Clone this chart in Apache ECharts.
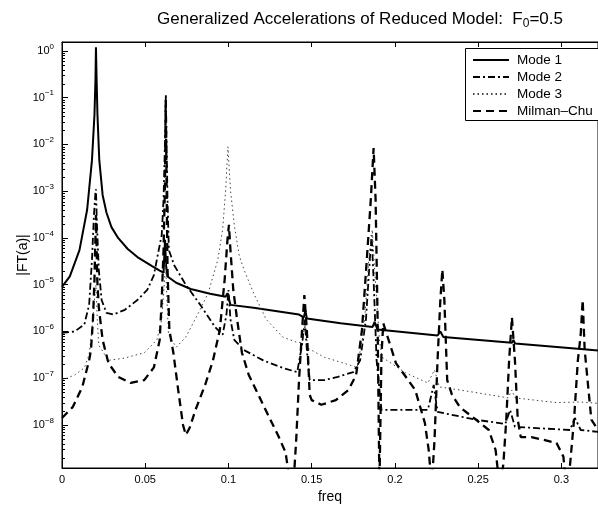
<!DOCTYPE html>
<html><head><meta charset="utf-8">
<script src="https://cdn.jsdelivr.net/npm/echarts@6/dist/echarts.min.js"></script>
<style>html,body{margin:0;padding:0;background:#fff}#c{width:598px;height:511px}</style>
</head><body><div id="c"></div>
<script>
// ---- data ----
const xTicks = [0, 0.05, 0.1, 0.15, 0.2, 0.25, 0.3];
const yTickExps = [0, -1, -2, -3, -4, -5, -6, -7, -8];
const seriesNames = ['Mode 1', 'Mode 2', 'Mode 3', 'Milman–Chu'];

const mode1Freq = [0, 0.0047, 0.0105, 0.0151, 0.0180, 0.0195, 0.0201, 0.0204, 0.0208, 0.0213, 0.0224, 0.0244, 0.0267, 0.0297, 0.0337, 0.0395, 0.0453, 0.0541, 0.0587, 0.0610, 0.0619, 0.0625, 0.0634, 0.0686, 0.0773, 0.0890, 0.0983, 0.0994, 0.1012, 0.1151, 0.1424, 0.1453, 0.1462, 0.1471, 0.1674, 0.1866, 0.1878, 0.1895, 0.2256, 0.2273, 0.2291, 0.2703, 0.2712, 0.2722, 0.3116, 0.322];
const mode1Amp = [9e-6, 1.5e-5, 5.5e-5, 4.0e-4, 4.6e-3, 0.043, 0.24, 1.2, 0.24, 0.043, 4.6e-3, 8.3e-4, 3.5e-4, 1.7e-4, 1.0e-4, 5.8e-5, 3.9e-5, 2.5e-5, 2.0e-5, 1.8e-5, 9.1e-5, 2.6e-5, 1.5e-5, 1.1e-5, 8.1e-6, 6.4e-6, 5.5e-6, 6.6e-6, 3.7e-6, 3.2e-6, 2.3e-6, 2.0e-6, 2.8e-6, 1.9e-6, 1.5e-6, 1.25e-6, 1.6e-6, 1.1e-6, 8.2e-7, 1.0e-6, 7.6e-7, 5.7e-7, 6.6e-7, 5.5e-7, 4.2e-7, 3.9e-7];

const mode2Freq = [0, 0.0076, 0.0134, 0.0163, 0.0180, 0.0192, 0.0201, 0.0204, 0.0209, 0.0221, 0.0238, 0.0267, 0.0308, 0.0378, 0.0453, 0.0512, 0.0552, 0.0581, 0.0599, 0.0610, 0.0619, 0.0624, 0.0628, 0.0634, 0.0642, 0.0674, 0.0744, 0.0831, 0.0919, 0.0965, 0.0988, 0.1000, 0.1012, 0.1035, 0.1093, 0.1209, 0.1326, 0.1413, 0.1442, 0.1459, 0.1471, 0.1488, 0.1576, 0.1657, 0.1750, 0.1791, 0.1826, 0.1849, 0.1860, 0.1872, 0.1890, 0.1919, 0.1965, 0.2198, 0.2233, 0.2256, 0.2488, 0.2663, 0.2692, 0.2721, 0.3052, 0.3081, 0.3116, 0.322];
const mode2Amp = [9.3e-7, 1.0e-6, 1.4e-6, 3.7e-6, 3.4e-5, 3.1e-4, 9.5e-4, 1.1e-3, 2.4e-4, 2.1e-5, 4.7e-6, 2.5e-6, 2.3e-6, 2.9e-6, 4.7e-6, 7.7e-6, 1.6e-5, 5.5e-5, 1.15e-4, 6.5e-4, 0.0126, 0.12, 0.0126, 6.5e-4, 5.5e-5, 2.6e-5, 9.9e-6, 3.7e-6, 1.25e-6, 8.5e-7, 2.3e-6, 7.7e-6, 1.8e-6, 6.6e-7, 4.0e-7, 2.4e-7, 1.66e-7, 1.35e-7, 5.1e-7, 1.8e-6, 4.0e-7, 9.1e-8, 9.1e-8, 1.07e-7, 1.35e-7, 2.4e-7, 1.8e-6, 3.4e-5, 1.15e-4, 1.27e-5, 2.4e-7, 2.1e-8, 2.1e-8, 2.1e-8, 7.2e-8, 1.9e-8, 1.29e-8, 1.05e-8, 2.1e-8, 9.1e-9, 7.8e-9, 1.41e-8, 7.8e-9, 7.1e-9];

const mode3Freq = [0, 0.0076, 0.0134, 0.0163, 0.0180, 0.0195, 0.0204, 0.0212, 0.0221, 0.0279, 0.0378, 0.0494, 0.0570, 0.0599, 0.0616, 0.0622, 0.0628, 0.0640, 0.0686, 0.0744, 0.0820, 0.0878, 0.0936, 0.0965, 0.0983, 0.0997, 0.1012, 0.1035, 0.1064, 0.1093, 0.1151, 0.1227, 0.1326, 0.1401, 0.1442, 0.1459, 0.1477, 0.1576, 0.1692, 0.1773, 0.1814, 0.1843, 0.1864, 0.1878, 0.1907, 0.1924, 0.2064, 0.2198, 0.2238, 0.2267, 0.2390, 0.2680, 0.2703, 0.2721, 0.2971, 0.3110, 0.322];
const mode3Amp = [9.1e-8, 1.17e-7, 1.66e-7, 3.2e-7, 1.07e-6, 4.7e-6, 9.9e-6, 1.8e-6, 5.1e-7, 2.4e-7, 2.7e-7, 3.5e-7, 6.6e-7, 1.8e-6, 1.27e-5, 3.1e-5, 7.7e-6, 8.5e-7, 4.6e-7, 7.6e-7, 2.5e-6, 6.6e-6, 3.4e-5, 1.5e-4, 1.06e-3, 8.9e-3, 1.06e-3, 1.9e-4, 4.3e-5, 2.1e-5, 6.6e-6, 1.8e-6, 7.6e-7, 6.0e-7, 5.7e-7, 1.38e-6, 4.4e-7, 2.8e-7, 2.1e-7, 1.7e-7, 1.07e-6, 3.4e-5, 1.5e-4, 2.1e-5, 6.6e-7, 2.8e-7, 1.3e-7, 7.9e-8, 1.5e-7, 6.5e-8, 5.6e-8, 3.8e-8, 5.6e-8, 3.8e-8, 3.0e-8, 3.1e-8, 2.9e-8];

const mcFreq = [0, 0.0064, 0.0122, 0.0163, 0.0174, 0.0186, 0.0195, 0.0204, 0.0212, 0.0221, 0.0244, 0.0279, 0.0337, 0.0413, 0.0494, 0.0552, 0.0587, 0.0599, 0.0610, 0.0619, 0.0623, 0.0628, 0.0634, 0.0645, 0.0669, 0.0698, 0.0727, 0.0744, 0.0767, 0.0802, 0.0860, 0.0907, 0.0948, 0.0977, 0.0994, 0.1003, 0.1012, 0.1029, 0.1052, 0.1081, 0.1122, 0.1180, 0.1238, 0.1297, 0.1343, 0.1372, 0.1390, 0.1407, 0.1424, 0.1442, 0.1456, 0.1471, 0.1488, 0.1500, 0.1558, 0.1645, 0.1721, 0.1767, 0.1802, 0.1831, 0.1855, 0.1872, 0.1884, 0.1895, 0.1907, 0.1919, 0.1930, 0.2006, 0.2122, 0.2180, 0.2203, 0.2221, 0.2238, 0.2256, 0.2273, 0.2285, 0.2297, 0.2314, 0.2343, 0.2390, 0.2488, 0.2564, 0.2605, 0.2628, 0.2651, 0.2669, 0.2686, 0.2703, 0.2721, 0.2738, 0.2756, 0.2820, 0.2895, 0.2971, 0.3012, 0.3029, 0.3052, 0.3076, 0.3099, 0.3116, 0.3128, 0.3140, 0.3180, 0.322];
const mcAmp = [1.41e-8, 2.4e-8, 6.5e-8, 2.4e-7, 4.0e-7, 1.8e-6, 1.27e-5, 3.1e-4, 1.27e-5, 3.3e-6, 6.6e-7, 2.1e-7, 1.07e-7, 7.9e-8, 9.1e-8, 1.7e-7, 6.6e-7, 4.7e-6, 5.5e-5, 1.7e-3, 0.09, 1.7e-3, 2.1e-5, 1.07e-6, 3.5e-7, 5.6e-8, 1.0e-8, 6.1e-9, 8.7e-9, 2.1e-8, 7.2e-8, 2.4e-7, 1.07e-6, 1.27e-5, 9.1e-5, 1.9e-4, 5.5e-5, 7.7e-6, 1.8e-6, 3.5e-7, 1.17e-7, 4.4e-8, 1.63e-8, 6.1e-9, 2.6e-9, 5e-10, 5e-10, 4.8e-9, 9.1e-8, 1.07e-6, 6.0e-6, 1.07e-6, 4.4e-8, 3.4e-8, 2.7e-8, 3.4e-8, 5.6e-8, 1.17e-7, 1.07e-6, 3.4e-5, 6.5e-4, 8.4e-3, 6.5e-4, 3.0e-6, 5e-10, 3.0e-7, 1.5e-6, 2.1e-7, 5.6e-8, 1.1e-8, 2.9e-9, 5e-10, 4.8e-9, 2.4e-7, 4.7e-6, 2.1e-5, 4.7e-6, 9.1e-8, 4.4e-8, 2.4e-8, 1.29e-8, 7.8e-9, 2.9e-9, 5e-10, 1.4e-9, 1.29e-8, 2.4e-7, 2.0e-6, 2.4e-7, 1.29e-8, 5.5e-9, 5.5e-9, 4.8e-9, 4.1e-9, 2.1e-9, 5e-10, 1.4e-9, 1.29e-8, 2.4e-7, 8.5e-7, 4.7e-6, 4.0e-7, 1.3e-8, 7.8e-9];

// ---- chart ----
const F = '"Liberation Sans", Arial, Helvetica, sans-serif';
const yMin = 1.2e-9, yMax = 1.55, xMax = 0.322;
const G = {left: 62, right: -18, top: 42, bottom: 43};
const LEG = {left: 465, top: 48, height: 72};
function pairs(f, a) { return f.map((x, i) => [x, a[i]]); }

const chart = echarts.init(document.getElementById('c'));
const option = {
  animation: false,
  backgroundColor: '#fff',
  title: {
    text: 'Generalized Accelerations of Reduced Model:  F{sub|0}=0.5',
    left: 355, top: 3, textAlign: 'center',
    textStyle: {fontFamily: F, fontSize: 17, fontWeight: 'normal', color: '#000',
      rich: {sub: {fontFamily: F, fontSize: 12, color: '#000', padding: [10, 0, 0, 0]}}}
  },
  legend: {
    data: seriesNames, orient: 'vertical', left: LEG.left, top: LEG.top,
    itemWidth: 36, itemHeight: 12, itemGap: 3,
    padding: [5, 0, 1, 7],
    backgroundColor: 'transparent', borderWidth: 0,
    itemStyle: {opacity: 0},
    textStyle: {fontFamily: F, fontSize: 13.5, color: '#000', padding: [0, 0, 0, 3]}
  },
  grid: Object.assign({show: true, borderColor: '#000', borderWidth: 1, backgroundColor: 'transparent', containLabel: false}, G),
  xAxis: [{
    type: 'value', min: 0, max: xMax, interval: 0.05, position: 'bottom',
    name: 'freq', nameLocation: 'middle', nameGap: 22, nameMoveOverlap: false,
    nameTextStyle: {fontFamily: F, fontSize: 14, color: '#000'},
    axisLine: {show: true, lineStyle: {color: '#000', width: 1}},
    axisTick: {show: true, inside: true, length: 5, lineStyle: {color: '#000'}},
    axisLabel: {fontFamily: F, fontSize: 11, color: '#000', margin: 6, showMaxLabel: false,
      formatter: v => (xTicks.some(t => Math.abs(t - v) < 1e-9) ? String(+v.toFixed(2)) : '')},
    splitLine: {show: false}
  }, {
    type: 'value', min: 0, max: xMax, interval: 0.05, position: 'top',
    axisLine: {show: true, lineStyle: {color: '#000', width: 1}},
    axisTick: {show: true, inside: true, length: 5, lineStyle: {color: '#000'}},
    axisLabel: {show: false}, splitLine: {show: false}
  }],
  yAxis: [{
    type: 'log', min: yMin, max: yMax, logBase: 10, splitNumber: 9,
    name: '|FT(a)|', nameLocation: 'middle', nameGap: 32, nameRotate: 90, nameMoveOverlap: false,
    nameTextStyle: {fontFamily: F, fontSize: 14, color: '#000'},
    axisLine: {show: true, lineStyle: {color: '#000', width: 1}},
    axisTick: {show: true, inside: true, length: 6, lineStyle: {color: '#000'}},
    axisLabel: {fontFamily: F, fontSize: 11, color: '#000', margin: 8,
      showMinLabel: false, showMaxLabel: false,
      formatter: v => {
        const e = Math.log10(v); const r = Math.round(e);
        if (Math.abs(e - r) > 1e-6 || yTickExps.indexOf(r) < 0) return '';
        return '10{sup|' + (r < 0 ? '\u2212' + (-r) : r) + '}';
      },
      rich: {sup: {fontFamily: F, fontSize: 8, color: '#000', padding: [0, 0, 9, 0]}}},
    splitLine: {show: false}
  }],
  series: [
    {name: seriesNames[0], type: 'line', data: pairs(mode1Freq, mode1Amp), symbol: 'none', showSymbol: false, clip: true,
     lineStyle: {color: '#000', width: 2, type: 'solid'}, itemStyle: {color: '#000'}},
    {name: seriesNames[1], type: 'line', data: pairs(mode2Freq, mode2Amp), symbol: 'none', showSymbol: false, clip: true,
     lineStyle: {color: '#000', width: 1.8, type: [7, 3, 2, 3]}, itemStyle: {color: '#000'}},
    {name: seriesNames[2], type: 'line', data: pairs(mode3Freq, mode3Amp), symbol: 'none', showSymbol: false, clip: true,
     lineStyle: {color: '#444', width: 1, type: [1.5, 3]}, itemStyle: {color: '#444'}},
    {name: seriesNames[3], type: 'line', data: pairs(mcFreq, mcAmp), symbol: 'none', showSymbol: false, clip: true,
     lineStyle: {color: '#000', width: 2.3, type: [8, 5]}, itemStyle: {color: '#000'}}
  ]
};
chart.setOption(option);

// legend frame (runs past the right edge like the cropped original) + log minor ticks
const extras = [{type: 'rect', silent: true, z: 3,
  shape: {x: LEG.left + 0.5, y: LEG.top + 0.5, width: 200, height: LEG.height},
  style: {fill: '#fff', stroke: '#000', lineWidth: 1}}];
for (let d = -9; d <= 0; d++) {
  for (let k = 2; k <= 9; k++) {
    const v = k * Math.pow(10, d);
    if (v > yMin && v < yMax) {
      const p = Math.round(chart.convertToPixel({yAxisIndex: 0}, v)) + 0.5;
      extras.push({type: 'line', silent: true, z: 10,
        shape: {x1: G.left, y1: p, x2: G.left + 3, y2: p},
        style: {stroke: '#000', lineWidth: 1}});
    }
  }
}
chart.setOption({graphic: extras});
</script>
</body></html>
